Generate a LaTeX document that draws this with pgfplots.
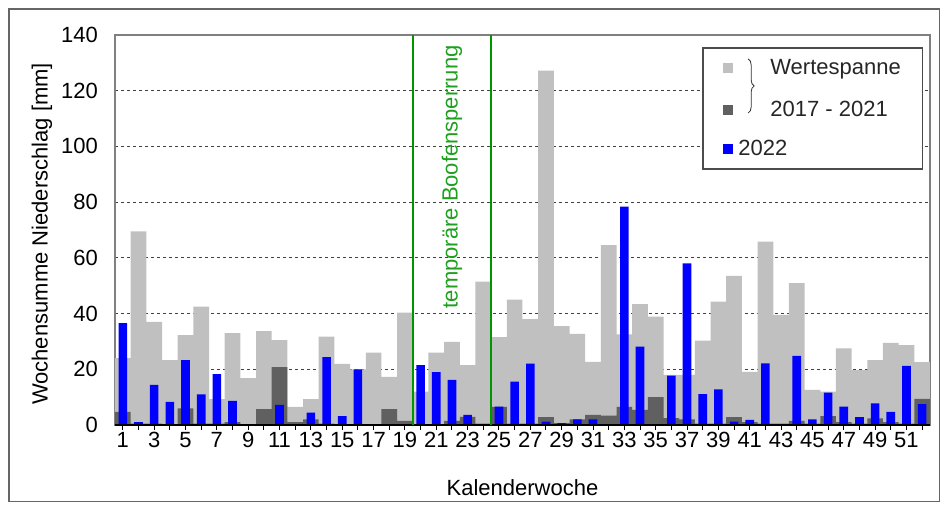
\documentclass[border=0pt]{standalone}
\usepackage{fontspec}
\setmainfont{Liberation Sans}
\usepackage{pgfplots}
\usepackage{pgfplotstable}
\pgfplotsset{compat=1.18}
\usetikzlibrary{decorations.pathreplacing}
\definecolor{lg}{RGB}{192,192,192}
\definecolor{dg}{RGB}{96,96,96}
\definecolor{bl}{RGB}{0,0,255}
\definecolor{gr}{RGB}{0,150,0}
\definecolor{gtext}{RGB}{30,160,30}

\pgfplotstableread{
w lo hi y22
1 4.7 24 36.6
2 0.5 69.5 1.0
3 0.5 37 14.4
4 0.3 23.3 8.3
5 6 32.3 23.3
6 0.5 42.5 11
7 0.5 9.3 18.3
8 1 33 8.7
9 0 16.8 0
10 5.7 33.7 0
11 20.8 30.5 7.2
12 1 6.5 0
13 2 9.3 4.4
14 0.5 31.7 24.4
15 0.3 21.9 3.2
16 0.3 20 20
17 0.3 26 0
18 5.7 17.3 0
19 1.5 40.3 0
20 0.3 12 21.5
21 0.3 26 19
22 1.5 29.8 16.2
23 2.9 21.5 3.6
24 0.5 51.5 0
25 6.5 31.5 6.6
26 0.5 45 15.6
27 0.5 38 22
28 2.8 127.2 1.2
29 0.7 35.5 0.7
30 2 32.7 2
31 3.6 22.7 2
32 3.4 64.6 0
33 6.5 32.5 78.4
34 5.4 43.4 28.1
35 10 38.9 0
36 2.5 18 17.7
37 2 18 58
38 0.5 30.3 11.1
39 0.5 44.3 12.8
40 2.8 53.5 1.2
41 1 19.1 1.8
42 0.5 65.8 22.1
43 0.5 39.5 0
44 1.5 50.9 24.8
45 0.5 12.6 2
46 3.2 12 11.6
47 1 27.5 6.6
48 0.5 19.7 2.8
49 2.4 23.3 7.8
50 1 29.5 4.7
51 0.5 28.7 21.2
52 9.4 22.6 7.5
}\data

\begin{document}
\begin{tikzpicture}[font=\fontsize{11bp}{13bp}\selectfont]
\begin{axis}[
  x=7.8365bp, y=1.393bp,
  xmin=0.5, xmax=52.5, ymin=0, ymax=140,
  clip=false,
  axis line style={draw=gray, line width=0.75bp},
  xtick={1,...,52},
  xticklabels={1,,3,,5,,7,,9,,11,,13,,15,,17,,19,,21,,23,,25,,27,,29,,31,,33,,35,,37,,39,,41,,43,,45,,47,,49,,51,},
  ytick={0,20,...,140},
  ymajorgrids,
  grid style={dash pattern=on 1.5bp off 1.5bp, black!75, line width=0.5bp},
  tick align=outside,
  xtick pos=left,
  ytick pos=left,
  major tick length=2.5bp,
  xtick style={black, line width=0.5bp},
  ytick style={draw=none},
  /pgf/number format/assume math mode=true,
  tick label style={font=\fontsize{11bp}{13bp}\selectfont},
  xticklabel style={yshift=2.5bp},
  yticklabel style={xshift=-2.5bp},
  label style={font=\fontsize{11bp}{13bp}\selectfont},
  xlabel={Kalenderwoche},
  ylabel={Wochensumme Niederschlag [mm]},
  every axis x label/.style={at={(axis description cs:0.5,-0.1615)},anchor=center},
  every axis y label/.style={at={(axis description cs:-0.0896,0.49)},rotate=90,anchor=center},
]
\addplot[ybar, bar width=1, bar shift=0pt, fill=lg, draw=none] table[x=w,y=hi]{\data};
\addplot[ybar, bar width=1, bar shift=0pt, fill=dg, draw=none] table[x=w,y=lo]{\data};
\addplot[ybar, bar width=0.55, bar shift=0pt, fill=bl, draw=none] table[x=w,y=y22]{\data};

\draw[black, line width=0.75bp] (axis cs:0.5,0) -- (axis cs:52.5,0);
\draw[gr, line width=1bp] (axis cs:19.5,0) -- (axis cs:19.5,140);
\draw[gr, line width=1bp] (axis cs:24.5,0) -- (axis cs:24.5,140);
\node[rotate=90, anchor=east, text=gtext, inner sep=0pt] at (axis cs:22,136.4) {temporäre Boofensperrung};

% legend
\draw[black!70, fill=white, line width=0.6bp] (axis cs:38.02,135.3) rectangle (axis cs:52.0,91.9);
\node[fill=lg, minimum size=5bp, inner sep=0pt] at (axis cs:39.61,128.1) {};
\node[fill=dg, minimum size=5bp, inner sep=0pt] at (axis cs:39.61,113.1) {};
\node[fill=bl, minimum size=5bp, inner sep=0pt] at (axis cs:39.61,99.1) {};
\draw[black!80, line width=0.4bp, decorate, decoration={brace, amplitude=3bp}] (axis cs:40.9,131.4) -- (axis cs:40.9,112.0);
\node[anchor=west, inner sep=0pt, text=black!85] at (axis cs:42.29,127.8) {Wertespanne};
\node[anchor=west, inner sep=0pt, text=black!85] at (axis cs:42.29,113.4) {2017 - 2021};
\node[anchor=west, inner sep=0pt, text=black!85] at (axis cs:40.25,99.4) {2022};

% outer frame and bounding box
\draw[black!60, line width=0.6bp] (axis cs:-6.263,149.3) rectangle (axis cs:53.1,-27.6);
\path (axis cs:-6.837,152.55) rectangle (axis cs:53.65,-31.23);
\end{axis}
\end{tikzpicture}
\end{document}
